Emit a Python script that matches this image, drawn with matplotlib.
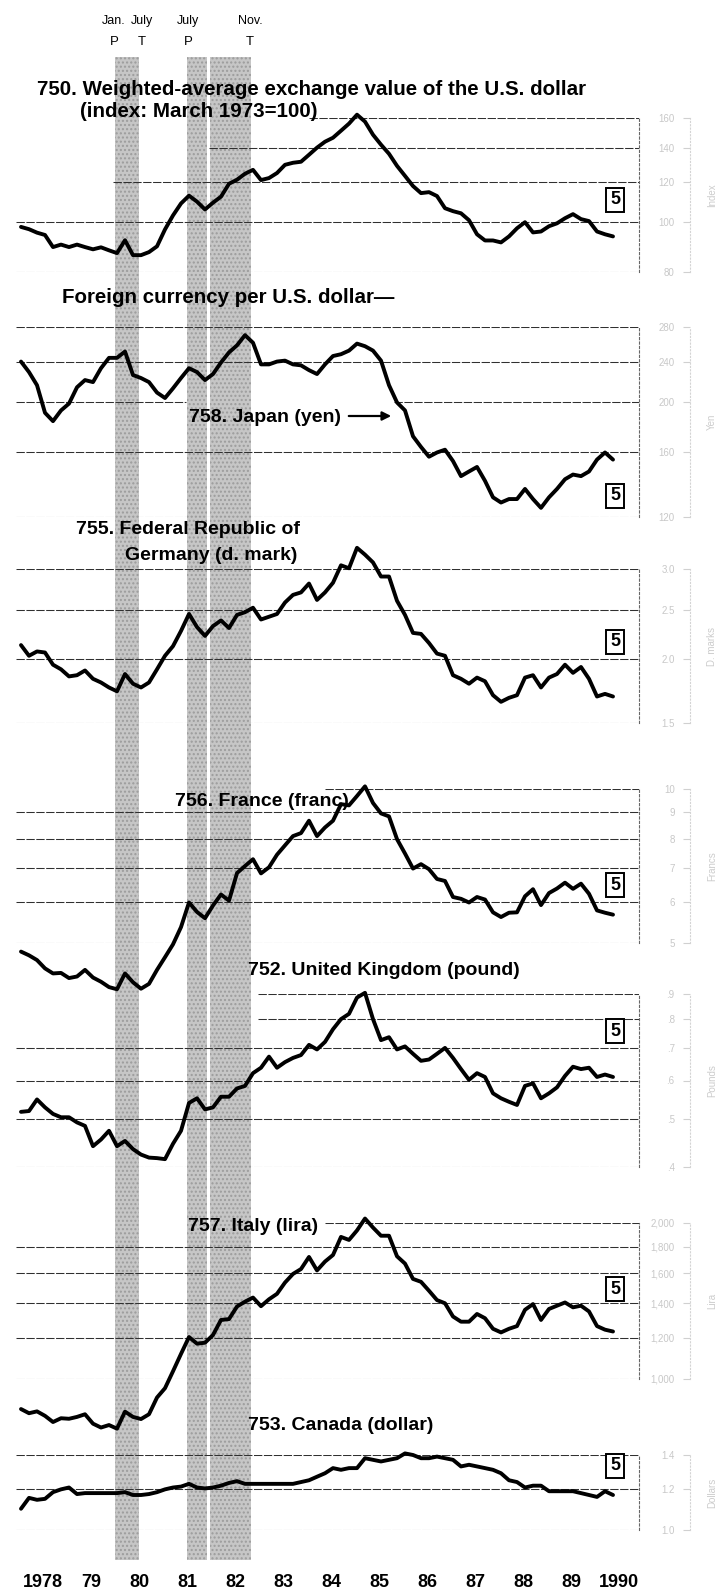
import numpy as np
import matplotlib
matplotlib.use("Agg")
import matplotlib.pyplot as plt
from matplotlib.ticker import FixedLocator, NullLocator
from matplotlib.patches import FancyArrowPatch

plt.rcParams['font.family'] = ['Liberation Sans', 'DejaVu Sans']

W, H = 723, 1590

# every other month (Jan, Mar, May, ...), Jan 1978 - May 1990
months = np.arange(0, 150, 2)
t = 1978 + (months + 0.5) / 12.0

# 750. weighted-average exchange value of the U.S. dollar (March 1973=100)
dollar_index = [98.0, 97.0, 95.5, 94.5, 89.5, 90.5, 89.5, 90.5, 89.5, 88.6,
                89.4, 88.2, 87.1, 92.3, 86.3, 86.3, 87.5, 89.8, 96.9, 103.2,
                108.9, 112.8, 109.8, 106.0, 109.3, 112.3, 119.0, 121.2, 124.5, 126.7,
                121.0, 122.1, 124.9, 129.6, 130.8, 131.4, 135.6, 140.0, 143.8, 146.4,
                151.1, 156.0, 162.4, 157.4, 148.4, 141.9, 136.2, 129.0, 123.3, 117.8,
                114.1, 114.6, 112.6, 106.6, 105.2, 104.2, 101.0, 94.8, 92.2, 92.2,
                91.4, 93.9, 97.4, 100.1, 95.6, 96.0, 98.3, 99.6, 101.9, 103.8,
                101.5, 100.6, 96.0, 94.8, 93.9]
# 758. Japan (yen per dollar)
japan_yen = [240, 229, 216, 191, 184, 193, 199, 214, 221, 219,
             233, 244, 244, 251, 226, 223, 219, 209, 204, 213,
             223, 233, 229, 221, 227, 239, 250, 258, 270, 261,
             237, 237, 240, 241, 237, 236, 231, 227, 237, 246,
             248, 252, 260, 257, 252, 241, 216, 200, 193, 172,
             164, 157, 160, 162, 154, 144, 147, 150, 141, 131,
             128, 130, 130, 136, 130, 125, 131, 136, 142, 145,
             144, 147, 155, 160, 155]
# 755. Federal Republic of Germany (d. marks per dollar)
germany_mark = [2.13, 2.03, 2.07, 2.06, 1.95, 1.91, 1.85, 1.86, 1.90, 1.83,
                1.80, 1.76, 1.73, 1.87, 1.79, 1.76, 1.80, 1.91, 2.03, 2.12,
                2.27, 2.45, 2.31, 2.22, 2.32, 2.38, 2.30, 2.44, 2.47, 2.52,
                2.39, 2.42, 2.45, 2.58, 2.67, 2.70, 2.81, 2.61, 2.70, 2.82,
                3.05, 3.01, 3.30, 3.20, 3.09, 2.90, 2.90, 2.60, 2.44, 2.25,
                2.24, 2.15, 2.05, 2.03, 1.86, 1.83, 1.79, 1.84, 1.81, 1.70,
                1.65, 1.68, 1.70, 1.84, 1.86, 1.76, 1.84, 1.87, 1.95, 1.88,
                1.93, 1.83, 1.69, 1.71, 1.69]
# 756. France (francs per dollar)
france_franc = [4.81, 4.73, 4.63, 4.46, 4.36, 4.37, 4.27, 4.30, 4.43, 4.28,
                4.20, 4.10, 4.06, 4.36, 4.19, 4.07, 4.16, 4.43, 4.69, 4.97,
                5.37, 6.00, 5.75, 5.59, 5.92, 6.22, 6.05, 6.85, 7.07, 7.29,
                6.84, 7.03, 7.44, 7.76, 8.09, 8.20, 8.67, 8.09, 8.41, 8.67,
                9.34, 9.29, 9.69, 10.12, 9.39, 8.96, 8.84, 7.98, 7.48, 6.99,
                7.13, 6.97, 6.67, 6.61, 6.15, 6.10, 6.00, 6.15, 6.08, 5.74,
                5.62, 5.73, 5.74, 6.17, 6.37, 5.93, 6.26, 6.39, 6.56, 6.38,
                6.53, 6.24, 5.79, 5.73, 5.68]
# 752. United Kingdom (pounds per dollar)
uk_pound = [0.518, 0.520, 0.549, 0.529, 0.513, 0.505, 0.505, 0.493, 0.485, 0.441,
            0.455, 0.474, 0.441, 0.452, 0.435, 0.424, 0.418, 0.417, 0.415, 0.446,
            0.474, 0.540, 0.552, 0.524, 0.529, 0.556, 0.556, 0.578, 0.585, 0.621,
            0.637, 0.671, 0.637, 0.654, 0.667, 0.676, 0.709, 0.694, 0.719, 0.763,
            0.800, 0.820, 0.885, 0.905, 0.800, 0.725, 0.735, 0.694, 0.704, 0.680,
            0.658, 0.662, 0.680, 0.699, 0.667, 0.633, 0.602, 0.621, 0.610, 0.565,
            0.552, 0.543, 0.535, 0.585, 0.592, 0.552, 0.565, 0.581, 0.613, 0.640,
            0.633, 0.637, 0.610, 0.617, 0.610]
# 757. Italy (lira per dollar)
italy_lira = [875, 859, 866, 849, 826, 840, 838, 845, 855, 820,
              806, 815, 802, 865, 845, 837, 855, 921, 960, 1035,
              1118, 1205, 1170, 1175, 1216, 1300, 1305, 1380, 1410, 1436,
              1382, 1425, 1460, 1535, 1595, 1630, 1720, 1620, 1685, 1735,
              1880, 1855, 1935, 2040, 1960, 1890, 1890, 1725, 1670, 1560,
              1540, 1480, 1420, 1400, 1320, 1290, 1290, 1335, 1310, 1250,
              1230, 1250, 1265, 1360, 1395, 1300, 1365, 1385, 1405, 1375,
              1385, 1350, 1265, 1245, 1235]
# 753. Canada (Canadian dollars per U.S. dollar)
canada_dollar = [1.100, 1.155, 1.145, 1.150, 1.185, 1.200, 1.210, 1.175, 1.180, 1.180,
                 1.180, 1.180, 1.180, 1.185, 1.170, 1.170, 1.175, 1.185, 1.200, 1.210,
                 1.215, 1.230, 1.210, 1.205, 1.210, 1.220, 1.235, 1.245, 1.230, 1.230,
                 1.230, 1.230, 1.230, 1.230, 1.230, 1.240, 1.250, 1.270, 1.290, 1.320,
                 1.310, 1.320, 1.320, 1.380, 1.370, 1.360, 1.370, 1.380, 1.410, 1.400,
                 1.380, 1.380, 1.390, 1.380, 1.370, 1.330, 1.340, 1.330, 1.320, 1.310,
                 1.290, 1.250, 1.240, 1.210, 1.220, 1.220, 1.190, 1.190, 1.190, 1.190,
                 1.180, 1.170, 1.160, 1.190, 1.170]

# business cycle peak / trough dates
recessions = [(1980 + 0 / 12, 1980 + 6 / 12), (1981 + 6 / 12, 1982 + 10 / 12)]
cycle_marks = [("Jan.", "P", 1980 + 0 / 12, -1), ("July", "T", 1980 + 6 / 12, 3),
               ("July", "P", 1981 + 6 / 12, 1), ("Nov.", "T", 1982 + 10 / 12, -1)]
years = list(range(1978, 1991))
year_labels = ['1978', '79', '80', '81', '82', '83', '84', '85', '86', '87', '88', '89', '1990']


def fx(x):
    return x / W


def fy(y):
    return 1 - y / H


def yr(x):
    return 1980 + (x - 115) / 48.0


X0, X1 = 16, 639
XLIM = (yr(X0), yr(X1))

fig = plt.figure(figsize=(W / 100, H / 100), dpi=100)

# shaded recession bands + year axis
bg = fig.add_axes([fx(X0), fy(1560), fx(X1) - fx(X0), fy(57) - fy(1560)])
bg.set_xlim(XLIM)
bg.set_ylim(0, 1)
for a, b in recessions:
    bg.axvspan(a, b, facecolor='#c6c6c6', edgecolor='#9c9c9c', hatch='....', lw=0)
bg.axvspan(yr(207), yr(210), color='white', lw=0)
for s in bg.spines.values():
    s.set_visible(False)
bg.set_yticks([])
bg.set_xticks([y + 0.5 for y in years])
bg.set_xticklabels(year_labels, fontsize=13, fontweight='bold')
bg.tick_params(axis='x', length=0, pad=10)
bg.patch.set_visible(False)

for top_lbl, pt_lbl, d, off in cycle_marks:
    xx = bg.transData.transform((d, 0))[0] / fig.dpi / fig.get_figwidth() + off / W
    fig.text(xx, fy(21), top_lbl, ha='center', va='center', fontsize=9)
    fig.text(xx, fy(42), pt_lbl, ha='center', va='center', fontsize=9.5)

# panel definitions: values, grid levels, top/bottom pixel rows, labels, unit
panels = [
    dict(v=dollar_index, grid=[160, 140, 120, 100, 80], top=118, bot=272,
         lab=['160', '140', '120', '100', '80'], unit='Index', box=200,
         segs={160: [(309, X1)], 140: [(209, X1)], 120: [(113, X1)]}),
    dict(v=japan_yen, grid=[280, 240, 200, 160, 120], top=327, bot=517,
         lab=['280', '240', '200', '160', '120'], unit='Yen', box=496,
         segs={200: [(X0, 186), (394, X1)]}),
    dict(v=germany_mark, grid=[3.0, 2.5, 2.0, 1.5], top=569, bot=723,
         lab=['3.0', '2.5', '2.0', '1.5'], unit='D. marks', box=642, segs={}),
    dict(v=france_franc, grid=[10, 9, 8, 7, 6, 5], top=789, bot=943,
         lab=['10', '9', '8', '7', '6', '5'], unit='Francs', box=885,
         segs={10: [(325, X1)]}),
    dict(v=uk_pound, grid=[0.9, 0.8, 0.7, 0.6, 0.5, 0.4], top=994, bot=1167,
         lab=['.9', '.8', '.7', '.6', '.5', '.4'], unit='Pounds', box=1031,
         segs={0.9: [(258, X1)], 0.8: [(258, X1)]}),
    dict(v=italy_lira, grid=[2000, 1800, 1600, 1400, 1200, 1000], top=1223, bot=1379,
         lab=['2,000', '1,800', '1,600', '1,400', '1,200', '1,000'], unit='Lira', box=1289,
         segs={2000: [(325, X1)]}),
    dict(v=canada_dollar, grid=[1.4, 1.2, 1.0], top=1455, bot=1530,
         lab=['1.4', '1.2', '1.0'], unit='Dollars', box=1466, segs={}),
]

for p in panels:
    lo, hi = min(p['grid']), max(p['grid'])
    ax = fig.add_axes([fx(X0), fy(p['bot']), fx(X1) - fx(X0), fy(p['top']) - fy(p['bot'])])
    ax.set_yscale('log')
    ax.set_ylim(lo, hi)
    ax.set_xlim(XLIM)
    ax.patch.set_visible(False)
    for s in ['top', 'bottom', 'left']:
        ax.spines[s].set_visible(False)
    ax.spines['right'].set_linestyle((0, (2, 2)))
    ax.spines['right'].set_color('#666666')
    ax.spines['right'].set_linewidth(0.8)
    ax.set_xticks([])
    ax.yaxis.set_major_locator(NullLocator())
    ax.yaxis.set_minor_locator(NullLocator())
    for g in p['grid']:
        for x0, x1 in p['segs'].get(g, [(X0, X1)]):
            ax.hlines(g, yr(x0), yr(x1), colors='#303030', lw=0.75, linestyles=(0, (8, 1.5)))
    ax.plot(t, p['v'], color='black', lw=2.8, solid_joinstyle='round',
            solid_capstyle='round', clip_on=False, zorder=5)

    # outer ratio scale
    sc = fig.add_axes([fx(690), fy(p['bot']), 0.0005, fy(p['top']) - fy(p['bot'])])
    sc.set_yscale('log')
    sc.set_ylim(lo, hi)
    sc.yaxis.set_major_locator(FixedLocator(p['grid']))
    sc.yaxis.set_minor_locator(NullLocator())
    sc.set_yticklabels(p['lab'])
    sc.set_xticks([])
    for s in ['top', 'bottom', 'right']:
        sc.spines[s].set_visible(False)
    sc.spines['left'].set_linestyle((0, (1, 2)))
    sc.spines['left'].set_color('#d4d4d4')
    sc.tick_params(axis='y', colors='#d0d0d0', labelcolor='#c8c8c8', labelsize=7,
                   length=5, width=0.8, pad=6)
    sc.patch.set_visible(False)
    fig.text(fx(712), fy((p['top'] + p['bot']) / 2), p['unit'], rotation=90,
             ha='center', va='center', fontsize=7, color='#cccccc')

    fig.text(fx(615), fy(p['box']), '5', ha='center', va='center', fontsize=13,
             fontweight='bold',
             bbox=dict(boxstyle='square,pad=0.22', fc='white', ec='black', lw=1.4))

tkw = dict(fontsize=14.8, fontweight='bold', ha='left', va='baseline')
fig.text(fx(37), fy(95), '750. Weighted-average exchange value of the U.S. dollar', **tkw)
fig.text(fx(80), fy(117), '(index: March 1973=100)', **tkw)
fig.text(fx(62), fy(303), 'Foreign currency per U.S. dollar\u2014', **tkw)
lkw = dict(tkw, fontsize=14)
fig.text(fx(189), fy(422), '758. Japan (yen)', **lkw)
fig.text(fx(76), fy(534), '755. Federal Republic of', **lkw)
fig.text(fx(125), fy(560), 'Germany (d. mark)', **lkw)
fig.text(fx(175), fy(806), '756. France (franc)', **lkw)
fig.text(fx(248), fy(975), '752. United Kingdom (pound)', **lkw)
fig.text(fx(188), fy(1231), '757. Italy (lira)', **lkw)
fig.text(fx(248), fy(1430), '753. Canada (dollar)', **lkw)

fig.add_artist(FancyArrowPatch((fx(346), fy(416)), (fx(394), fy(416)),
                               transform=fig.transFigure, arrowstyle='-|>',
                               mutation_scale=13, lw=1.6, color='black'))

fig.savefig('out.png', dpi=100)
